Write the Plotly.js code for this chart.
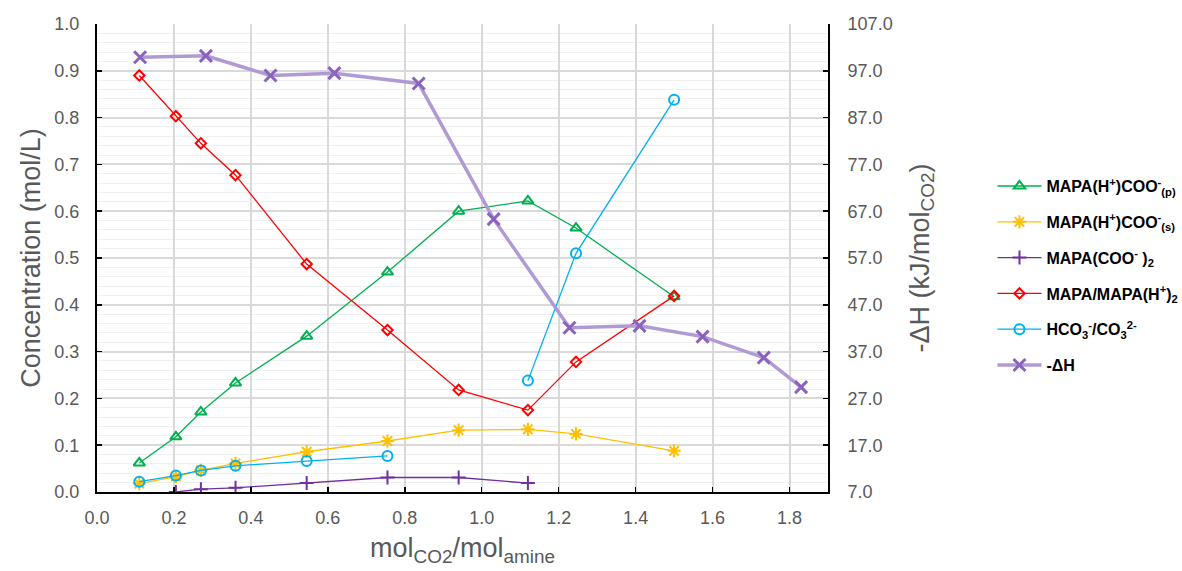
<!DOCTYPE html>
<html><head><meta charset="utf-8">
<script src="https://cdn.plot.ly/plotly-3.0.1.min.js"></script>
<style>body{margin:0;background:#fff}#chart{width:1182px;height:571px}</style>
</head><body><div id="chart"></div>
<script>
// Data
const xP = [0.11, 0.205, 0.27, 0.36, 0.545, 0.755, 0.94, 1.12, 1.245, 1.5];
const yP = [0.062, 0.118, 0.171, 0.233, 0.333, 0.470, 0.600, 0.622, 0.564, 0.417];
const xS = [0.11, 0.205, 0.27, 0.36, 0.545, 0.755, 0.94, 1.12, 1.245, 1.5];
const yS = [0.018, 0.033, 0.046, 0.061, 0.086, 0.109, 0.132, 0.134, 0.124, 0.088];
const xC = [0.205, 0.27, 0.36, 0.545, 0.755, 0.94, 1.12];
const yC = [0.0, 0.006, 0.009, 0.019, 0.031, 0.031, 0.019];
const xM = [0.11, 0.205, 0.27, 0.36, 0.545, 0.755, 0.94, 1.12, 1.245, 1.5];
const yM = [0.890, 0.803, 0.745, 0.677, 0.487, 0.346, 0.218, 0.175, 0.278, 0.419];
const xH1 = [0.11, 0.205, 0.27, 0.36, 0.545, 0.755];
const yH1 = [0.022, 0.035, 0.046, 0.056, 0.066, 0.077];
const xH2 = [1.12, 1.245, 1.5];
const yH2 = [0.238, 0.510, 0.838];
const xD = [0.112, 0.283, 0.451, 0.617, 0.836, 1.031, 1.228, 1.410, 1.574, 1.733, 1.830];
const yD = [99.9, 100.2, 96.0, 96.5, 94.3, 65.3, 42.1, 42.5, 40.2, 35.7, 29.4];

const names = [
  '<b>MAPA(H<sup>+</sup>)COO<sup>-</sup><sub>(p)</sub></b>',
  '<b>MAPA(H<sup>+</sup>)COO<sup>-</sup><sub>(s)</sub></b>',
  '<b>MAPA(COO<sup>-</sup> )<sub>2</sub></b>',
  '<b>MAPA/MAPA(H<sup>+</sup>)<sub>2</sub></b>',
  '<b>HCO<sub>3</sub><sup>-</sup>/CO<sub>3</sub><sup>2-</sup></b>',
  '<b>-ΔH</b>'
];

function tr(x, y, name, color, symbol, size, grp, show) {
  return {x: x, y: y, name: name, type: 'scatter', mode: 'lines+markers',
    legendgroup: grp, showlegend: show,
    line: {color: color, width: 1.3},
    marker: {symbol: symbol, size: size, color: color, line: {color: color, width: 2}}};
}
const traces = [
  tr(xP, yP, names[0], '#00b050', 'triangle-up-open', 10, 'a', true),
  tr(xS, yS, names[1], '#ffc000', 'asterisk-open', 11, 'b', true),
  tr(xC, yC, names[2], '#7030a0', 'cross-thin-open', 10, 'c', true),
  tr(xM, yM, names[3], '#ff0000', 'diamond-open', 8, 'd', true),
  tr(xH1, yH1, names[4], '#00b0f0', 'circle-open', 10, 'e', true),
  tr(xH2, yH2, names[4], '#00b0f0', 'circle-open', 10, 'e', false)
];
traces.push({x: xD, y: yD, name: names[5], type: 'scatter', mode: 'lines+markers', yaxis: 'y2',
  legendgroup: 'f',
  line: {color: '#b09ad6', width: 3.5},
  marker: {symbol: 'x-thin-open', size: 12, color: '#8a63bd', line: {color: '#8a63bd', width: 3}}});

const FF = 'Liberation Sans, Arial, sans-serif';
const tickFont = {family: FF, size: 18, color: '#595959'};
const titleFont = {family: FF, size: 27, color: '#595959'};

const layout = {
  width: 1182, height: 571,
  margin: {l: 97, r: 354, t: 24, b: 79, autoexpand: false},
  paper_bgcolor: '#fff', plot_bgcolor: '#fff',
  showlegend: true,
  legend: {x: 1.225, y: 0.69, xanchor: 'left', yanchor: 'top', tracegroupgap: 12, itemwidth: 44,
    font: {family: FF, size: 16, color: '#000'}},
  xaxis: {range: [0, 1.9], dtick: 0.2, tick0: 0, tickformat: '.1f',
    showgrid: true, gridcolor: '#d9d9d9', gridwidth: 2, zeroline: false,
    showline: true, linecolor: '#000', linewidth: 2,
    ticks: 'inside', ticklen: 5, tickcolor: '#000', tickwidth: 1.5,
    tickfont: tickFont, ticklabelstandoff: 8,
    title: {text: 'mol<sub>CO2</sub>/mol<sub>amine</sub>', font: titleFont, standoff: 12}},
  yaxis: {range: [0, 1.0], dtick: 0.1, tickformat: '.1f',
    showgrid: true, gridcolor: '#d9d9d9', gridwidth: 2, zeroline: false,
    minor: {dtick: 0.02, showgrid: true, gridcolor: '#f0f0f0', gridwidth: 1},
    showline: true, linecolor: '#000', linewidth: 2,
    ticks: 'inside', ticklen: 5, tickcolor: '#000', tickwidth: 1.5,
    tickfont: tickFont, ticklabelstandoff: 12,
    title: {text: 'Concentration (mol/L)', font: titleFont, standoff: 6}},
  yaxis2: {range: [7, 107], dtick: 10, tick0: 7, tickformat: '.1f', overlaying: 'y', side: 'right',
    showgrid: false, zeroline: false,
    showline: true, linecolor: '#000', linewidth: 2,
    ticks: 'inside', ticklen: 5, tickcolor: '#000', tickwidth: 1.5,
    tickfont: tickFont, ticklabelstandoff: 14,
    title: {text: '-ΔH (kJ/mol<sub>CO2</sub>)', font: titleFont, standoff: 18}}
};
Plotly.newPlot('chart', traces, layout, {displayModeBar: false, staticPlot: true});
</script></body></html>
